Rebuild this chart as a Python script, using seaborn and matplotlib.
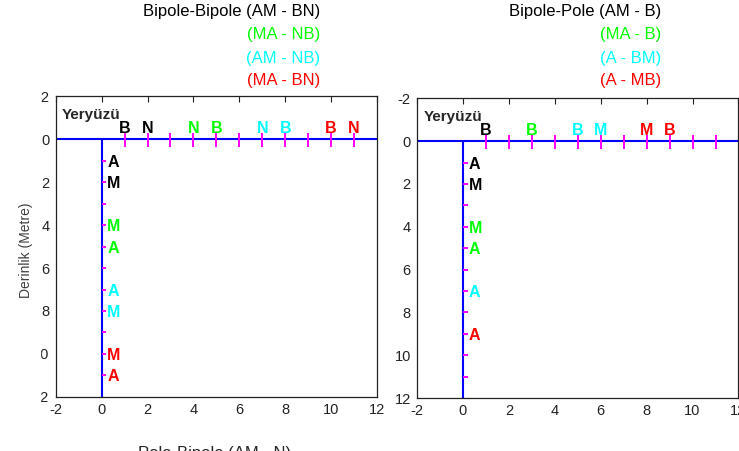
import matplotlib
matplotlib.use('Agg')
import matplotlib.pyplot as plt
import seaborn as sns
import pandas as pd
from matplotlib.patches import Rectangle

# --- data ---
surface_x = [-2, 12]
surface_y = [0, 0]
hole_x = [0, 0]
hole_y = [0, 12]
electrode_pos = [1, 2, 3, 4, 5, 6, 7, 8, 9, 10, 11]

y_ticks = [-2, 0, 2, 4, 6, 8, 10, 12]
x_ticks = [-2, 0, 2, 4, 6, 8, 10, 12]

# bipole-bipole (left)
bb_titles = ['Bipole-Bipole (AM - BN)', '(MA - NB)', '(AM - NB)', '(MA - BN)']
bb_top_labels = ['B', 'N', 'N', 'B', 'N', 'B', 'B', 'N']
bb_top_x = [1, 2, 4, 5, 7, 8, 10, 11]
bb_top_col = ['black', 'black', 'lime', 'lime', 'cyan', 'cyan', 'red', 'red']
bb_hole_labels = ['A', 'M', 'M', 'A', 'A', 'M', 'M', 'A']
bb_hole_y = [1, 2, 4, 5, 7, 8, 10, 11]
bb_hole_col = ['black', 'black', 'lime', 'lime', 'cyan', 'cyan', 'red', 'red']

# bipole-pole (right)
bp_titles = ['Bipole-Pole (AM - B)', '(MA - B)', '(A - BM)', '(A - MB)']
bp_top_labels = ['B', 'B', 'B', 'M', 'M', 'B']
bp_top_x = [1, 3, 5, 6, 8, 9]
bp_top_col = ['black', 'lime', 'cyan', 'cyan', 'red', 'red']
bp_hole_labels = ['A', 'M', 'M', 'A', 'A', 'A']
bp_hole_y = [1, 2, 4, 5, 7, 9]
bp_hole_col = ['black', 'black', 'lime', 'lime', 'cyan', 'red']

title_colors = ['black', 'lime', 'cyan', 'red']

sns.set_style('white')
plt.rcParams['font.family'] = ['Liberation Sans', 'DejaVu Sans']
plt.rcParams['axes.unicode_minus'] = False

surface = pd.DataFrame({'x': surface_x, 'y': surface_y})
hole = pd.DataFrame({'x': hole_x, 'y': hole_y})

fig = plt.figure(figsize=(7.39, 4.51), dpi=100)
ax1 = fig.add_axes([0.0754, 0.1202, 0.4348, 0.6659])
ax2 = fig.add_axes([0.5643, 0.1175, 0.4350, 0.6645])


def draw_panel(ax, top_labels, top_x, top_col, hole_labels, hole_y, hole_col):
    sns.lineplot(data=surface, x='x', y='y', ax=ax, color='blue',
                 linewidth=1.5, estimator=None, sort=False)
    sns.lineplot(data=hole, x='x', y='y', ax=ax, color='blue',
                 linewidth=1.5, estimator=None, sort=False)
    ax.vlines(electrode_pos, -0.3, 0.35, color='magenta', lw=1.4, zorder=4)
    ax.hlines(electrode_pos, 0, 0.2, color='magenta', lw=1.4, zorder=4)

    for lab, x, c in zip(top_labels, top_x, top_col):
        ax.text(x, -0.3, lab, color=c, fontsize=11.5, fontweight='bold',
                ha='center', va='baseline')
    for lab, y, c in zip(hole_labels, hole_y, hole_col):
        ax.text(0.24, y, lab, color=c, fontsize=11.5, fontweight='bold',
                ha='left', va='center_baseline')

    ax.text(-1.72, -1.15, 'Yeryüzü', fontsize=11, fontweight='bold',
            ha='left', va='center')

    ax.set_xlim(-2, 12)
    ax.set_ylim(12, -2)
    ax.set_xticks(x_ticks)
    ax.set_yticks(y_ticks)
    ax.set_xlabel('')
    ax.set_ylabel('')
    ax.tick_params(direction='in', length=4, width=0.8, labelsize=10.5,
                   pad=4.5, top=True, colors='#222222')
    for s in ax.spines.values():
        s.set_color('#222222')
        s.set_linewidth(0.9)


draw_panel(ax1, bb_top_labels, bb_top_x, bb_top_col,
           bb_hole_labels, bb_hole_y, bb_hole_col)
draw_panel(ax2, bp_top_labels, bp_top_x, bp_top_col,
           bp_hole_labels, bp_hole_y, bp_hole_col)

ax1.set_ylabel('Derinlik (Metre)', fontsize=10, color='#404040')
ax1.yaxis.set_label_coords(-0.07, 0.487)

# stacked, colour coded titles
title_y = [0.975, 0.923, 0.871, 0.822]
for txt, c, y in zip(bb_titles, title_colors, title_y):
    fig.text(0.433, y, txt, color=c, fontsize=12, ha='right', va='center')
for txt, c, y in zip(bp_titles, title_colors, title_y):
    fig.text(0.895, y, txt, color=c, fontsize=12, ha='right', va='center')

# title of the panel below, cut off by the screenshot
fig.text(0.291, 0.0115, 'Pole-Bipole (AM - N)', fontsize=12,
         ha='center', va='top')

# the screenshot clips the leading digit of the left y tick labels
fig.add_artist(Rectangle((34 / 739, 0.108), 5.8 / 739, 0.695,
                         transform=fig.transFigure, color='white', zorder=10))

fig.savefig('out.png', dpi=100)
